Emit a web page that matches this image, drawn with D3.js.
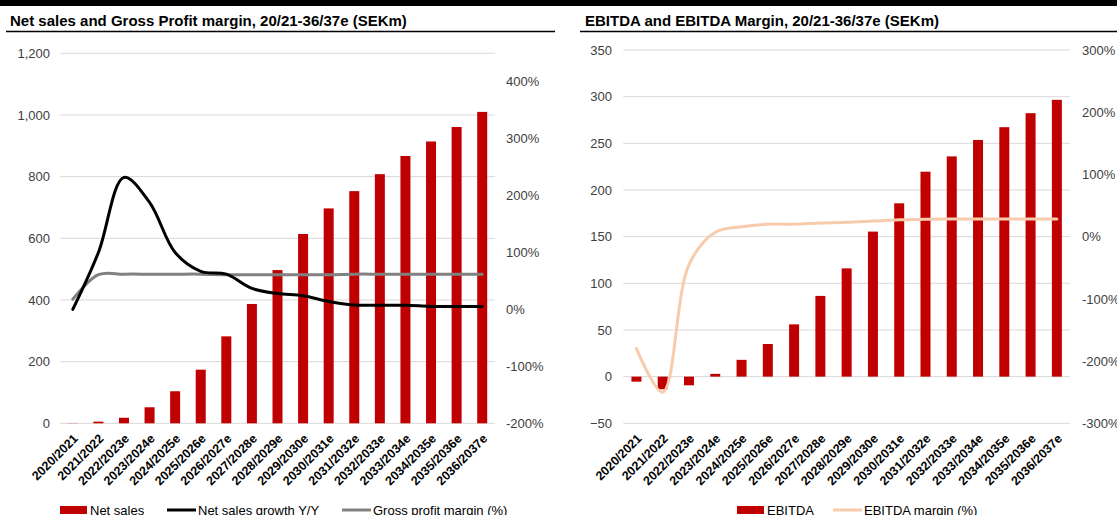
<!DOCTYPE html>
<html>
<head>
<meta charset="utf-8">
<script src="https://cdn.jsdelivr.net/npm/d3@7"></script>
<style>
	body{margin:0;background:#fff;}
	svg{display:block;font-family:Arial,"Liberation Sans",sans-serif;}
</style>
</head>
<body>
<div id="chart"></div>
<script>
// categories shared by both charts
var years = ["2020/2021","2021/2022","2022/2023e","2023/2024e","2024/2025e","2025/2026e","2026/2027e","2027/2028e","2028/2029e","2029/2030e","2030/2031e","2031/2032e","2032/2033e","2033/2034e","2034/2035e","2035/2036e","2036/2037e"];

// left chart
var netSales = [0.5,5.4,18,52,104,174,282,387,497,614,697,753,808,867,914,961,1010];
var salesGrowth = [0,1.0,2.32,1.88,1.0,0.67,0.62,0.37,0.28,0.24,0.14,0.08,0.073,0.073,0.054,0.05,0.05];
var grossMargin = [0.18,0.61,0.62,0.62,0.62,0.62,0.61,0.61,0.61,0.61,0.61,0.62,0.62,0.62,0.62,0.62,0.62];
var salesTicks = [0,200,400,600,800,1000,1200];
var growthTicks = [-2,-1,0,1,2,3,4];

// right chart
var ebitda = [-5.4,-13.5,-9.3,3,18,35,56,86.5,116,155.4,185.7,219.6,236,253.6,267.3,282.3,296.6];
var ebitdaMargin = [-1.8,-2.5,-0.45,0.07,0.16,0.2,0.2,0.22,0.23,0.25,0.27,0.28,0.285,0.285,0.285,0.285,0.285];
var ebitdaTicks = [-50,0,50,100,150,200,250,300,350];
var marginTicks = [-3,-2,-1,0,1,2,3];

var W = 1117, H = 515;
var svg = d3.select("#chart").append("svg").attr("width",W).attr("height",H);

// top black band
svg.append("rect").attr("x",0).attr("y",0).attr("width",W).attr("height",6).attr("fill","#000");

function pct(d){ return (d<0?"-":"")+Math.abs(Math.round(d*100))+"%"; }

function panel(o){
	var g = svg.append("g");
	g.append("text").attr("x",o.titleX).attr("y",26)
		.attr("font-size","15px").attr("font-weight","bold").attr("fill","#000")
		.text(o.title);
	g.append("line").attr("x1",o.ulX1).attr("x2",o.ulX2).attr("y1",31.5).attr("y2",31.5)
		.attr("stroke","#000").attr("stroke-width",1.6);

	var x = d3.scaleBand().domain(years).range([o.x0,o.x1]);
	var yL = d3.scaleLinear().domain(o.leftDomain).range([o.yBottom,o.yTop]);
	var yR = d3.scaleLinear().domain(o.rightDomain).range([o.yBottom,o.yTop]);

	// gridlines
	g.selectAll("line.grid").data(o.leftTicks).enter().append("line")
		.classed("grid",true)
		.attr("x1",o.x0).attr("x2",o.x1)
		.attr("y1",function(d){return yL(d);}).attr("y2",function(d){return yL(d);})
		.attr("stroke","#d9d9d9").attr("stroke-width",1);

	// left axis
	var la = d3.axisLeft(yL).tickValues(o.leftTicks).tickSize(0).tickPadding(0).tickFormat(d3.format(","));
	var lg = g.append("g").attr("transform","translate("+o.leftLabelX+",0)").call(la);
	lg.select(".domain").remove();
	lg.selectAll("text").attr("font-size","13px").attr("fill","#404040").attr("font-family","Arial,'Liberation Sans',sans-serif");

	// right axis
	var ra = d3.axisRight(yR).tickValues(o.rightTicks).tickSize(0).tickPadding(0).tickFormat(pct);
	var rg = g.append("g").attr("transform","translate("+o.rightLabelX+",0)").call(ra);
	rg.select(".domain").remove();
	rg.selectAll("text").attr("font-size","13px").attr("fill","#404040").attr("font-family","Arial,'Liberation Sans',sans-serif");

	// bars
	var bw = 10;
	g.selectAll("rect.bar").data(o.bars).enter().append("rect")
		.classed("bar",true)
		.attr("x",function(d,i){return x(years[i])+x.bandwidth()/2-bw/2;})
		.attr("width",bw)
		.attr("y",function(d){return Math.min(yL(d),yL(0));})
		.attr("height",function(d){return Math.abs(yL(d)-yL(0));})
		.attr("fill","#c00000");

	// lines
	o.lines.forEach(function(l){
		var line = d3.line()
			.x(function(d,i){return x(years[i])+x.bandwidth()/2;})
			.y(function(d){return yR(d);})
			.curve(d3.curveCatmullRom.alpha(0.5));
		g.append("path").datum(l.values)
			.attr("d",line).attr("fill","none")
			.attr("stroke",l.color).attr("stroke-width",3)
			.attr("stroke-linecap","round").attr("stroke-linejoin","round");
	});

	// x labels
	g.selectAll("text.xl").data(years).enter().append("text")
		.classed("xl",true)
		.attr("transform",function(d){return "translate("+(x(d)+x.bandwidth()/2+6)+","+(o.yBottom+16)+") rotate(-45)";})
		.attr("text-anchor","end")
		.attr("font-size","12.5px").attr("font-weight","bold").attr("fill","#000")
		.text(function(d){return d;});

	// legend
	o.legend.forEach(function(it){
		if(it.type=="bar"){
			g.append("rect").attr("x",it.x).attr("y",506).attr("width",27).attr("height",8).attr("fill",it.color);
		} else {
			g.append("line").attr("x1",it.x).attr("x2",it.x+29).attr("y1",510).attr("y2",510)
				.attr("stroke",it.color).attr("stroke-width",3);
		}
		g.append("text").attr("x",it.x+(it.type=="bar"?30:31)).attr("y",514.5)
			.attr("font-size","13px").attr("fill","#000").text(it.label);
	});
}

panel({
	title:"Net sales and Gross Profit margin, 20/21-36/37e (SEKm)",
	titleX:10, ulX1:6, ulX2:555,
	x0:60, x1:495, yTop:53.3, yBottom:423.3,
	leftDomain:[0,1200], rightDomain:[-2,4.5],
	leftTicks:salesTicks, rightTicks:growthTicks,
	leftLabelX:50, rightLabelX:506,
	bars:netSales,
	lines:[{values:grossMargin,color:"#808080"},{values:salesGrowth,color:"#000"}],
	legend:[
		{type:"bar",x:60,color:"#c00000",label:"Net sales"},
		{type:"line",x:167,color:"#000",label:"Net sales growth Y/Y"},
		{type:"line",x:342,color:"#808080",label:"Gross profit margin (%)"}
	]
});

panel({
	title:"EBITDA and EBITDA Margin, 20/21-36/37e (SEKm)",
	titleX:585, ulX1:580, ulX2:1117,
	x0:623.3, x1:1070, yTop:50, yBottom:423.3,
	leftDomain:[-50,350], rightDomain:[-3,3],
	leftTicks:ebitdaTicks, rightTicks:marginTicks,
	leftLabelX:612, rightLabelX:1082,
	bars:ebitda,
	lines:[{values:ebitdaMargin,color:"#f8cbad"}],
	legend:[
		{type:"bar",x:737,color:"#c00000",label:"EBITDA"},
		{type:"line",x:833,color:"#f8cbad",label:"EBITDA margin (%)"}
	]
});
</script>
</body>
</html>
